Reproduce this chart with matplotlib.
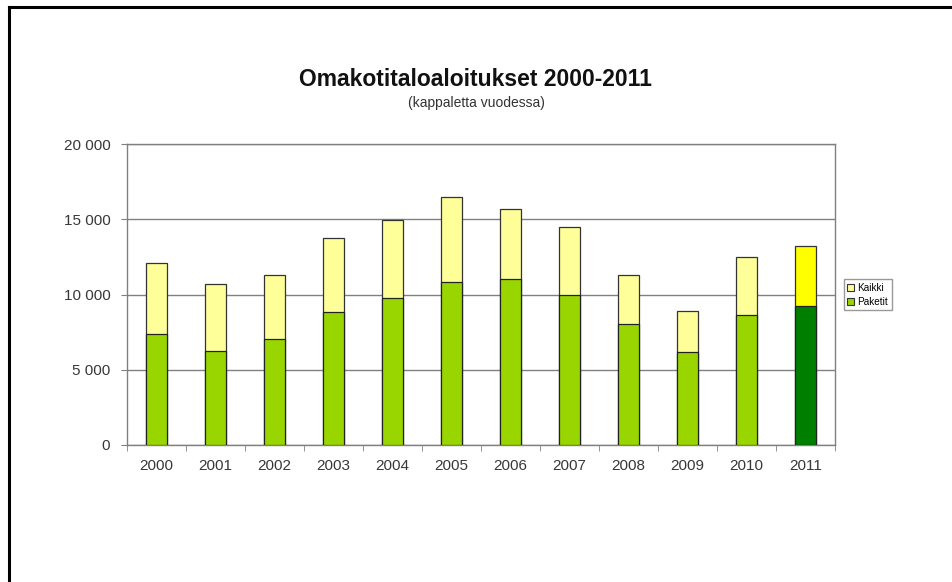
import matplotlib
matplotlib.use("Agg")
import matplotlib.pyplot as plt
import numpy as np
from matplotlib.lines import Line2D
from matplotlib.patches import Patch

years = ["2000", "2001", "2002", "2003", "2004", "2005", "2006", "2007", "2008", "2009", "2010", "2011"]
kaikki = [12100, 10700, 11300, 13750, 14950, 16450, 15700, 14500, 11300, 8900, 12500, 13200]
paketit = [7350, 6250, 7050, 8850, 9800, 10850, 11050, 9950, 8050, 6200, 8650, 9250]
yticks = [0, 5000, 10000, 15000, 20000]
ytick_labels = ["0", "5 000", "10 000", "15 000", "20 000"]

plt.rcParams['font.family'] = ['Liberation Sans', 'DejaVu Sans']

fig = plt.figure(figsize=(9.53, 5.82), dpi=100)
W, H = 953, 582
ax = fig.add_axes([127 / W, 1 - 445 / H, 708 / W, 301 / H])

x = np.arange(len(years))
light_y = ["#FFFF99"] * 11 + ["#FFFF00"]
green = ["#99D600"] * 11 + ["#007E00"]
bw = 0.37
ax.bar(x, kaikki, width=bw, color=light_y, edgecolor="#333333", linewidth=0.9, zorder=3)
ax.bar(x, paketit, width=bw, color=green, edgecolor="#222222", linewidth=0.9, zorder=4)

ax.set_xlim(-0.5, len(years) - 0.5)
ax.set_ylim(0, 20000)
ax.set_yticks(yticks)
ax.set_yticklabels(ytick_labels)
ax.set_xticks(x)
ax.set_xticklabels(years)
ax.set_xticks(np.arange(-0.5, len(years) + 0.5, 1), minor=True)
ax.tick_params(axis='x', which='major', length=0, pad=10, labelsize=11, labelcolor="#383838")
ax.tick_params(axis='x', which='minor', length=4, color="#808080", direction='out')
ax.tick_params(axis='y', length=4, color="#808080", pad=8, labelsize=11, labelcolor="#383838")

ax.grid(axis='y', color="#808080", linewidth=1.0, zorder=0)
for s in ax.spines.values():
    s.set_color("#808080")
    s.set_linewidth(1.0)

fig.text(475 / W, 1 - 80 / H, "Omakotitaloaloitukset 2000-2011", ha='center', va='center',
         fontsize=16.5, fontweight='bold', color="#111111")
fig.text(476 / W, 1 - 103 / H, "(kappaletta vuodessa)", ha='center', va='center',
         fontsize=10, color="#333333")

handles = [Patch(facecolor="#FFFF99", edgecolor="#333333", linewidth=0.8, label="Kaikki"),
           Patch(facecolor="#99D600", edgecolor="#333333", linewidth=0.8, label="Paketit")]
leg = fig.legend(handles=handles, loc='upper left', bbox_to_anchor=(844 / W, 1 - 279 / H),
                 fontsize=7.2, frameon=True, fancybox=False, edgecolor="#808080",
                 handlelength=0.7, handleheight=0.7, handletextpad=0.3, borderpad=0.35,
                 labelspacing=0.4, borderaxespad=0)
leg.get_frame().set_linewidth(1.0)

fig.add_artist(Line2D([9 / W, 9 / W], [0, 1 - 7 / H], color='black', linewidth=2.2,
                      transform=fig.transFigure))
fig.add_artist(Line2D([9 / W, 1], [1 - 7 / H, 1 - 7 / H], color='black', linewidth=2.2,
                      transform=fig.transFigure))

fig.savefig("out.png", dpi=100)
